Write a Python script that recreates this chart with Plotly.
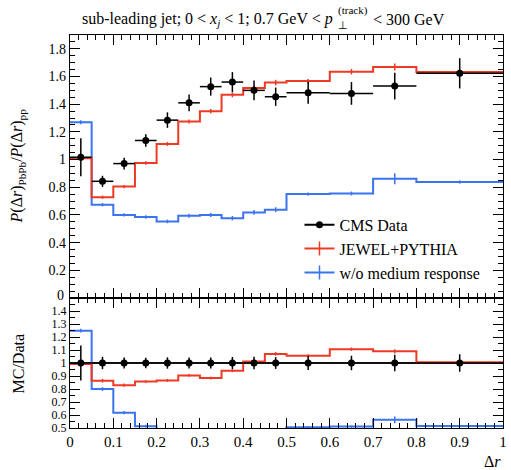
import plotly.graph_objects as go

# Bin edges in Delta r
edges = [0.0, 0.05, 0.1, 0.15, 0.2, 0.25, 0.3, 0.35, 0.4, 0.45, 0.5, 0.6, 0.7, 0.8, 1.0]

# CMS data: PbPb / pp ratio of the radial track-pT distribution
cms = [1.017, 0.843, 0.971, 1.138, 1.285, 1.41, 1.527, 1.56, 1.50, 1.454, 1.483, 1.478, 1.531, 1.623]
cms_err = [0.137, 0.040, 0.042, 0.045, 0.056, 0.060, 0.065, 0.072, 0.072, 0.066, 0.080, 0.082, 0.097, 0.109]

# JEWEL+PYTHIA with medium response
jewel = [1.01, 0.728, 0.805, 0.975, 1.113, 1.275, 1.35, 1.468, 1.518, 1.556, 1.567, 1.635, 1.669, 1.633]
jewel_err = [0.015, 0.012, 0.012, 0.013, 0.015, 0.015, 0.016, 0.018, 0.018, 0.020, 0.015, 0.020, 0.025, 0.015]

# JEWEL+PYTHIA without medium response
nomr = [1.27, 0.674, 0.60, 0.585, 0.553, 0.594, 0.60, 0.577, 0.618, 0.638, 0.751, 0.755, 0.862, 0.838]
nomr_err = [0.015, 0.012, 0.012, 0.012, 0.013, 0.014, 0.015, 0.016, 0.017, 0.018, 0.012, 0.014, 0.040, 0.012]

top_yticks = [0, 0.2, 0.4, 0.6, 0.8, 1.0, 1.2, 1.4, 1.6, 1.8]
top_ylabels = ["", "0.2", "0.4", "0.6", "0.8", "1", "1.2", "1.4", "1.6", "1.8"]
ratio_yticks = [0.5, 0.6, 0.7, 0.8, 0.9, 1.0, 1.1, 1.2, 1.3, 1.4]
ratio_ylabels = ["0.5", "0.6", "0.7", "0.8", "0.9", "1", "1.1", "1.2", "1.3", "1.4"]
xticks = [0, 0.1, 0.2, 0.3, 0.4, 0.5, 0.6, 0.7, 0.8, 0.9, 1.0]
xlabels = ["0", "0.1", "0.2", "0.3", "0.4", "0.5", "0.6", "0.7", "0.8", "0.9", "1"]

RED = "rgb(238,58,36)"
BLUE = "rgb(58,116,240)"
FONT = "Liberation Serif"

centers = [(a + b) / 2 for a, b in zip(edges[:-1], edges[1:])]
halfw = [(b - a) / 2 for a, b in zip(edges[:-1], edges[1:])]
ratio_j = [m / d for m, d in zip(jewel, cms)]
ratio_n = [m / d for m, d in zip(nomr, cms)]

fig = go.Figure()


def add_hist(vals, errs, color, xaxis, yaxis):
    # step outline
    fig.add_trace(go.Scatter(
        x=edges, y=list(vals) + [vals[-1]], mode="lines", line_shape="hv",
        line=dict(color=color, width=2), showlegend=False, hoverinfo="skip",
        xaxis=xaxis, yaxis=yaxis))
    # statistical error ticks at bin centres
    fig.add_trace(go.Scatter(
        x=centers, y=vals, mode="markers", marker=dict(size=1, color=color, opacity=0),
        error_y=dict(type="data", array=errs, color=color, thickness=1.5, width=0),
        showlegend=False, hoverinfo="skip", xaxis=xaxis, yaxis=yaxis))


# Upper panel
add_hist(nomr, nomr_err, BLUE, "x2", "y2")
add_hist(jewel, jewel_err, RED, "x2", "y2")
fig.add_trace(go.Scatter(
    x=centers, y=cms, mode="markers", marker=dict(size=7, color="black"),
    error_y=dict(type="data", array=cms_err, color="black", thickness=1.5, width=0),
    error_x=dict(type="data", array=halfw, color="black", thickness=1.5, width=0),
    showlegend=False, xaxis="x2", yaxis="y2"))

# Ratio panel
fig.add_trace(go.Scatter(
    x=[0, 1], y=[1, 1], mode="lines", line=dict(color="black", width=1.5),
    showlegend=False, hoverinfo="skip", xaxis="x", yaxis="y"))
add_hist(ratio_n, [e / d for e, d in zip(nomr_err, cms)], BLUE, "x", "y")
add_hist(ratio_j, [e / d for e, d in zip(jewel_err, cms)], RED, "x", "y")
fig.add_trace(go.Scatter(
    x=centers, y=[1.0] * len(centers), mode="markers", marker=dict(size=7, color="black"),
    error_y=dict(type="data", array=[e / d for e, d in zip(cms_err, cms)],
                 color="black", thickness=1.5, width=0),
    error_x=dict(type="data", array=halfw, color="black", thickness=1.5, width=0),
    showlegend=False, xaxis="x", yaxis="y"))

# Legend entries
fig.add_trace(go.Scatter(x=[None], y=[None], mode="lines+markers", name="CMS Data",
                         line=dict(color="black", width=2),
                         marker=dict(size=7, color="black"), xaxis="x2", yaxis="y2"))
fig.add_trace(go.Scatter(x=[None], y=[None], mode="lines+markers", name="JEWEL+PYTHIA",
                         line=dict(color=RED, width=2),
                         marker=dict(symbol="line-ns-open", size=10, color=RED,
                                     line=dict(color=RED, width=1.5)),
                         xaxis="x2", yaxis="y2"))
fig.add_trace(go.Scatter(x=[None], y=[None], mode="lines+markers", name="w/o medium response",
                         line=dict(color=BLUE, width=2),
                         marker=dict(symbol="line-ns-open", size=10, color=BLUE,
                                     line=dict(color=BLUE, width=1.5)),
                         xaxis="x2", yaxis="y2"))

axis_common = dict(
    showline=True, linecolor="black", linewidth=1.2, mirror="allticks",
    ticks="inside", ticklen=10, tickwidth=1, tickcolor="black",
    showgrid=False, zeroline=False,
)
minor_common = dict(ticks="inside", ticklen=5, tickcolor="black")

split = 130 / 393

fig.update_layout(
    width=511, height=470,
    margin=dict(l=70, r=4, t=35, b=42),
    paper_bgcolor="white", plot_bgcolor="white",
    font=dict(family=FONT, color="black"),
    xaxis=dict(range=[0, 1], tickvals=xticks, ticktext=xlabels,
               minor=dict(dtick=0.02, **minor_common), anchor="y",
               tickfont=dict(family=FONT, size=15, color="black"), **axis_common),
    xaxis2=dict(range=[0, 1], tickvals=xticks, showticklabels=False, matches="x",
                minor=dict(dtick=0.02, **minor_common), anchor="y2", **axis_common),
    yaxis=dict(domain=[0, split], range=[0.5, 1.5], tickvals=ratio_yticks,
               ticktext=ratio_ylabels,
               minor=dict(dtick=0.05, **minor_common), anchor="x",
               tickfont=dict(family=FONT, size=12, color="black"), **axis_common),
    yaxis2=dict(domain=[split, 1], range=[0, 1.9], tickvals=top_yticks,
                ticktext=top_ylabels,
                minor=dict(dtick=0.05, **minor_common), anchor="x2",
                tickfont=dict(family=FONT, size=14, color="black"), **axis_common),
    legend=dict(x=0.53, y=0.56, xanchor="left", yanchor="top",
                font=dict(family=FONT, size=16, color="black"),
                bgcolor="rgba(0,0,0,0)", itemwidth=30, tracegroupgap=0),
    showlegend=True,
)


def px_x(p):
    return (p - 70) / 437


def px_y(p):
    return 1 - (p - 35) / 393


annotations = [
    dict(text="sub-leading jet; 0 < <i>x<sub>j</sub></i> < 1; 0.7 GeV < <i>p</i>",
         x=px_x(337), y=px_y(19), xanchor="right", yanchor="middle", font=dict(size=16)),
    dict(text="(track)", x=px_x(338), y=px_y(11), xanchor="left", yanchor="middle",
         font=dict(size=11)),
    dict(text="⊥", x=px_x(338), y=px_y(25), xanchor="left", yanchor="middle",
         font=dict(size=11)),
    dict(text="< 300 GeV", x=px_x(374), y=px_y(19), xanchor="left", yanchor="middle",
         font=dict(size=16)),
    # zero label of the upper panel, nudged up to clear the ratio-panel labels
    dict(text="0", x=px_x(66), y=px_y(295), xanchor="right", yanchor="middle",
         font=dict(size=14)),
    dict(text="<i>P</i>(Δ<i>r</i>)<sub>PbPb</sub>/<i>P</i>(Δ<i>r</i>)<sub>pp</sub>",
         x=px_x(18), y=px_y(166), xanchor="center", yanchor="middle", textangle=-90,
         font=dict(size=16)),
    dict(text="MC/Data", x=px_x(18), y=px_y(363), xanchor="center", yanchor="middle",
         textangle=-90, font=dict(size=16)),
    dict(text="Δ<i>r</i>", x=px_x(507), y=px_y(461), xanchor="right", yanchor="middle",
         font=dict(size=16)),
]
for a in annotations:
    a.update(xref="paper", yref="paper", showarrow=False)
    a["font"] = dict(family=FONT, color="black", **a["font"])
fig.update_layout(annotations=annotations)

fig.write_html("out.html")
